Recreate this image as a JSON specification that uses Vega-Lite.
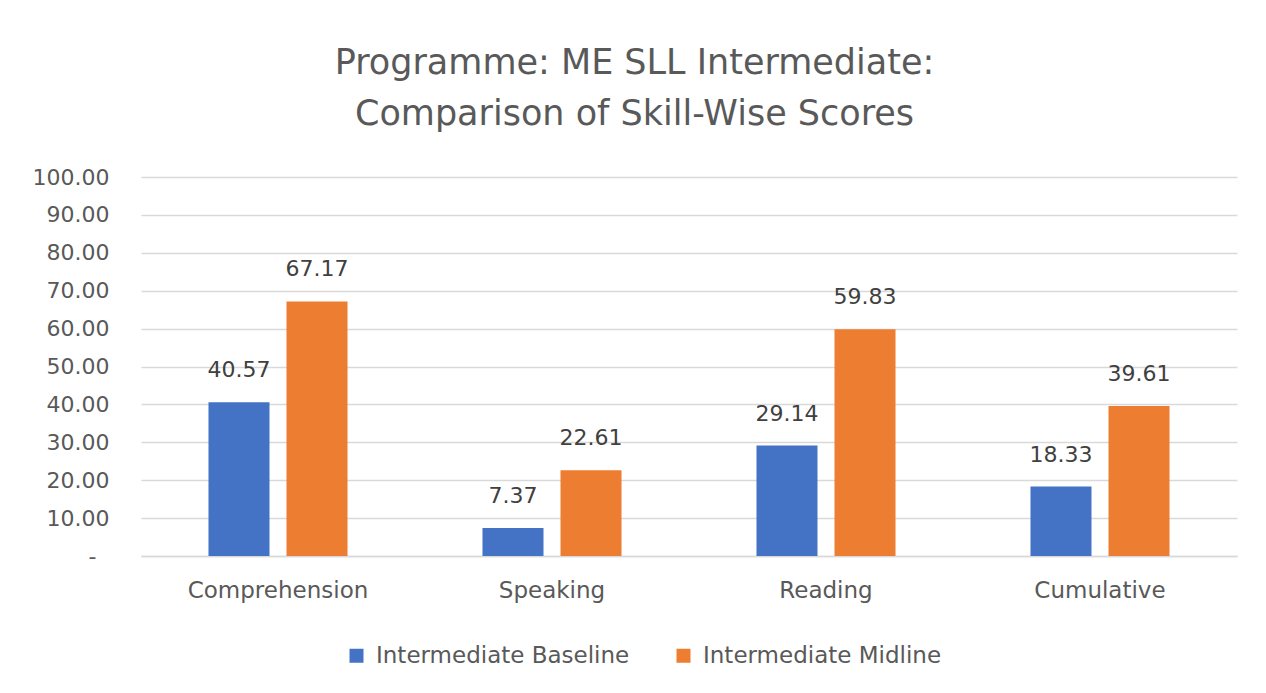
{
  "$schema": "https://vega.github.io/schema/vega-lite/v6.json",
  "width": 1096,
  "height": 379,
  "autosize": {"type": "none"},
  "padding": {"left": 141, "top": 177, "right": 29, "bottom": 137},
  "background": "white",
  "title": {
    "text": ["Programme: ME SLL Intermediate:", "Comparison of Skill-Wise Scores"],
    "font": "DejaVu Sans",
    "fontSize": 35,
    "fontWeight": "normal",
    "color": "#595959",
    "anchor": "middle",
    "frame": "bounds",
    "lineHeight": 51,
    "offset": 34
  },
  "data": {
    "values": [
      {"skill": "Comprehension", "series": "Intermediate Baseline", "score": 40.57},
      {"skill": "Comprehension", "series": "Intermediate Midline", "score": 67.17},
      {"skill": "Speaking", "series": "Intermediate Baseline", "score": 7.37},
      {"skill": "Speaking", "series": "Intermediate Midline", "score": 22.61},
      {"skill": "Reading", "series": "Intermediate Baseline", "score": 29.14},
      {"skill": "Reading", "series": "Intermediate Midline", "score": 59.83},
      {"skill": "Cumulative", "series": "Intermediate Baseline", "score": 18.33},
      {"skill": "Cumulative", "series": "Intermediate Midline", "score": 39.61}
    ]
  },
  "encoding": {
    "x": {
      "field": "skill",
      "type": "nominal",
      "sort": ["Comprehension", "Speaking", "Reading", "Cumulative"],
      "scale": {"paddingInner": 0, "paddingOuter": 0},
      "axis": {
        "title": null,
        "labelAngle": 0,
        "labelFont": "DejaVu Sans",
        "labelFontSize": 23,
        "labelColor": "#595959",
        "labelPadding": 23,
        "labelLimit": 0,
        "ticks": false,
        "domainColor": "#d9d9d9",
        "domainWidth": 1.5
      }
    },
    "xOffset": {
      "field": "series",
      "type": "nominal",
      "scale": {"paddingInner": 0.218, "paddingOuter": 0.865}
    },
    "y": {
      "field": "score",
      "type": "quantitative",
      "scale": {"domain": [0, 100]},
      "axis": {
        "title": null,
        "values": [0, 10, 20, 30, 40, 50, 60, 70, 80, 90, 100],
        "labelExpr": "datum.value == 0 ? '-' : format(datum.value, '.2f')",
        "labelFont": "DejaVu Sans",
        "labelFontSize": 22,
        "labelColor": "#595959",
        "labelPadding": {"condition": {"test": "datum.value == 0", "value": 45}, "value": 32},
        "ticks": false,
        "domain": false,
        "gridColor": "#d9d9d9",
        "gridWidth": 1.5
      }
    }
  },
  "layer": [
    {
      "mark": {"type": "bar"},
      "encoding": {
        "color": {
          "field": "series",
          "type": "nominal",
          "scale": {"domain": ["Intermediate Baseline", "Intermediate Midline"], "range": ["#4472C4", "#ED7D31"]},
          "legend": {
            "title": null,
            "orient": "none",
            "direction": "horizontal",
            "legendX": 204,
            "legendY": 467,
            "symbolType": "square",
            "symbolSize": 196,
            "symbolStrokeWidth": 0,
            "labelFont": "DejaVu Sans",
            "labelFontSize": 23,
            "labelColor": "#595959",
            "labelOffset": 8,
            "labelLimit": 0,
            "columnPadding": 42
          }
        }
      }
    },
    {
      "mark": {"type": "text", "baseline": "middle", "dy": -32, "font": "DejaVu Sans", "fontSize": 22, "color": "#404040"},
      "encoding": {
        "text": {"field": "score", "type": "quantitative", "format": ".2f"}
      }
    }
  ],
  "config": {"view": {"stroke": null}}
}
